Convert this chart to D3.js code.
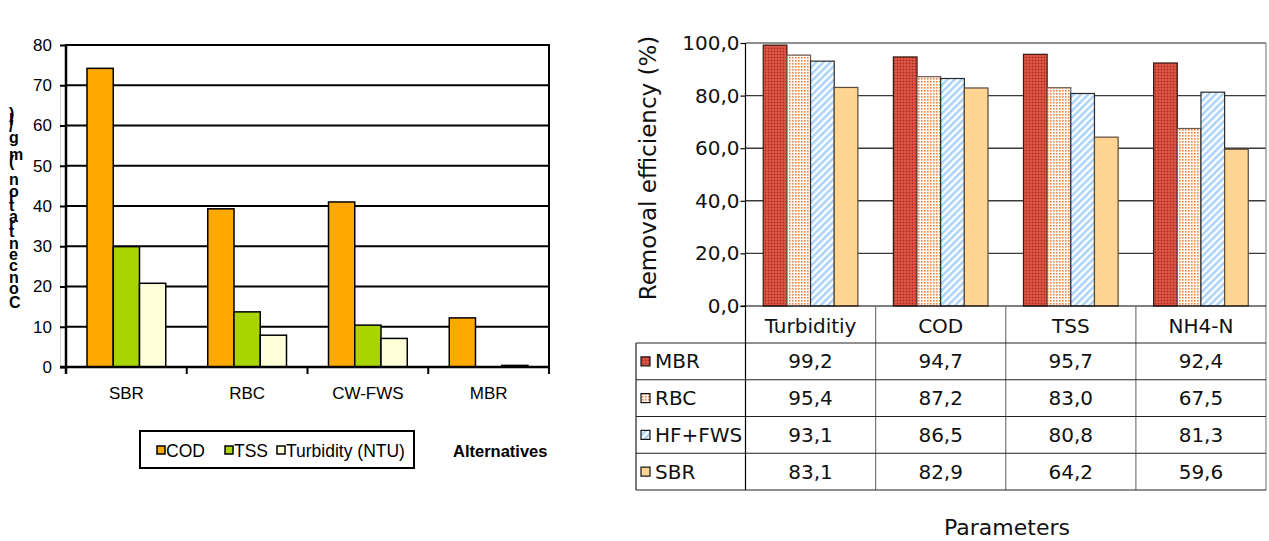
<!DOCTYPE html>
<html>
<head>
<meta charset="utf-8">
<script src="https://cdn.jsdelivr.net/npm/d3@7"></script>
<style>
  html, body { margin: 0; padding: 0; background: #fff; }
  svg { display: block; }
</style>
</head>
<body>
<svg id="chart" width="1269" height="541"></svg>
<script>
// ---------- Left chart data ----------
const leftCategories = ["SBR", "RBC", "CW-FWS", "MBR"];
const leftSeries = ["COD", "TSS", "Turbidity (NTU)"];
const codValues = [74.2, 39.3, 41.0, 12.2];
const tssValues = [29.9, 13.7, 10.4, 0];
const turbidityValues = [20.8, 7.9, 7.1, 0.4];
const leftTicks = [0, 10, 20, 30, 40, 50, 60, 70, 80];
const leftYLabel = "Concentration (mg/l)";
const leftXTitle = "Alternatives";

// ---------- Right chart data ----------
const parameters = ["Turbiditiy", "COD", "TSS", "NH4-N"];
const rightSeries = ["MBR", "RBC", "HF+FWS", "SBR"];
const mbrValues = [99.2, 94.7, 95.7, 92.4];
const rbcValues = [95.4, 87.2, 83.0, 67.5];
const hfFwsValues = [93.1, 86.5, 80.8, 81.3];
const sbrValues = [83.1, 82.9, 64.2, 59.6];
const rightTicks = [0, 20, 40, 60, 80, 100];
const rightYTitle = "Removal efficiency (%)";
const rightXTitle = "Parameters";

const svg = d3.select("#chart");
const defs = svg.append("defs");

// patterns for right chart
const pMBR = defs.append("pattern").attr("id", "pMBR").attr("patternUnits", "userSpaceOnUse").attr("width", 3).attr("height", 3);
pMBR.append("rect").attr("width", 3).attr("height", 3).attr("fill", "#d5493a");
pMBR.append("rect").attr("width", 1).attr("height", 1).attr("fill", "#9a2a20");
pMBR.append("rect").attr("x", 1.5).attr("y", 1.5).attr("width", 1).attr("height", 1).attr("fill", "#e67a68");

const pRBC = defs.append("pattern").attr("id", "pRBC").attr("patternUnits", "userSpaceOnUse").attr("width", 3).attr("height", 3);
pRBC.append("rect").attr("width", 3).attr("height", 3).attr("fill", "#fff8f0");
pRBC.append("rect").attr("width", 1.6).attr("height", 1.6).attr("fill", "#e8874a");

const pHF = defs.append("pattern").attr("id", "pHF").attr("patternUnits", "userSpaceOnUse").attr("width", 5).attr("height", 5).attr("patternTransform", "rotate(45)");
pHF.append("rect").attr("width", 5).attr("height", 5).attr("fill", "#ffffff");
pHF.append("rect").attr("width", 2.5).attr("height", 5).attr("fill", "#a9d3fb");

const rightFills = ["url(#pMBR)", "url(#pRBC)", "url(#pHF)", "#ffd591"];
const rightStrokes = ["#3a1a14", "#6b5a50", "#2a2a2a", "#5a4a3a"];
const leftFills = ["#ffa800", "#a8d500", "#ffffd9"];

// ================= LEFT CHART =================
const L = { x0: 66, x1: 549, y0: 45, y1: 367 };
const lx = d3.scaleBand().domain(leftCategories).range([L.x0, L.x1]);
const lbw = lx.bandwidth();
const lBarW = lbw / (leftSeries.length + 1.6);
const lPad = (lbw - lBarW * leftSeries.length) / 2;
const lxi = d3.scaleBand().domain(leftSeries).range([lPad, lbw - lPad]);
const ly = d3.scaleLinear().domain([0, 80]).range([L.y1, L.y0]);

const left = svg.append("g").attr("font-family", "'Liberation Sans', Arial, sans-serif");

left.append("line").attr("x1", 60.5).attr("x2", 60.5).attr("y1", 85).attr("y2", L.y1).attr("stroke", "#d0d0d0").attr("stroke-width", 1);

left.append("g").selectAll("line").data(leftTicks.filter(d => d > 0)).join("line")
  .attr("x1", L.x0).attr("x2", L.x1).attr("y1", d => ly(d)).attr("y2", d => ly(d))
  .attr("stroke", "#000").attr("stroke-width", 2);
left.append("line").attr("x1", L.x1).attr("x2", L.x1).attr("y1", L.y0 - 1).attr("y2", L.y1 + 7)
  .attr("stroke", "#000").attr("stroke-width", 2);

const leftData = [codValues, tssValues, turbidityValues];
leftSeries.forEach((s, si) => {
  left.append("g").selectAll("rect").data(leftCategories).join("rect")
    .attr("x", c => lx(c) + lxi(s))
    .attr("y", (c, i) => ly(leftData[si][i]))
    .attr("width", lxi.bandwidth())
    .attr("height", (c, i) => ly(0) - ly(leftData[si][i]))
    .attr("fill", leftFills[si])
    .attr("stroke", "#000").attr("stroke-width", 1.5);
});

const lyAxis = left.append("g").attr("transform", `translate(${L.x0},0)`)
  .call(d3.axisLeft(ly).tickValues(leftTicks).tickSize(6).tickPadding(8));
lyAxis.select(".domain").attr("stroke", "#000").attr("stroke-width", 2.5).attr("d", `M0,${L.y0 - 1}V${L.y1 + 7}`);
lyAxis.selectAll(".tick line").attr("stroke", "#000").attr("stroke-width", 2);
lyAxis.selectAll(".tick text").attr("font-size", 17).attr("fill", "#000").attr("font-family", "'Liberation Sans', Arial, sans-serif");

const lxAxis = left.append("g").attr("transform", `translate(0,${L.y1})`)
  .call(d3.axisBottom(lx).tickSize(0).tickPadding(20));
lxAxis.select(".domain").attr("stroke", "#000").attr("stroke-width", 2.5).attr("d", `M${L.x0 - 6},0H${L.x1}`);
lxAxis.selectAll(".tick text").attr("font-size", 17).attr("fill", "#000").attr("font-family", "'Liberation Sans', Arial, sans-serif");
left.append("g").selectAll("line").data(leftCategories.map(c => lx(c)).concat([L.x1])).join("line")
  .attr("x1", d => d).attr("x2", d => d).attr("y1", L.y1).attr("y2", L.y1 + 7)
  .attr("stroke", "#000").attr("stroke-width", 2);

// garbled y label: text runs bottom-to-top, each glyph drawn upright
left.append("text")
  .attr("transform", "translate(9,308) rotate(-90)")
  .attr("x", 0).attr("y", 0)
  .attr("rotate", "90")
  .attr("letter-spacing", 2)
  .attr("font-size", 16).attr("font-weight", "bold")
  .text(leftYLabel);

// legend
left.append("rect").attr("x", 140).attr("y", 431).attr("width", 274).attr("height", 37)
  .attr("fill", "#fff").attr("stroke", "#000").attr("stroke-width", 2);
const legX = [157, 225, 277];
leftSeries.forEach((s, i) => {
  left.append("rect").attr("x", legX[i]).attr("y", 446).attr("width", 8).attr("height", 8)
    .attr("fill", leftFills[i]).attr("stroke", "#000").attr("stroke-width", 1.5);
  left.append("text").attr("x", legX[i] + 9).attr("y", 457).attr("font-size", 17.5).text(s);
});
left.append("text").attr("x", 453).attr("y", 457).attr("font-size", 16.5).attr("font-weight", "bold").text(leftXTitle);

// ================= RIGHT CHART =================
const R = { x0: 745.5, x1: 1266, y0: 43, y1: 306 };
const rx = d3.scaleBand().domain(parameters).range([R.x0, R.x1]);
const rbw = rx.bandwidth();
const rBarW = rbw / (rightSeries.length + 1.5);
const rPad = (rbw - rBarW * rightSeries.length) / 2;
const rxi = d3.scaleBand().domain(rightSeries).range([rPad, rbw - rPad]);
const ry = d3.scaleLinear().domain([0, 100]).range([R.y1, R.y0]);
const fmt = v => d3.format(".1f")(v).replace(".", ",");

const right = svg.append("g").attr("font-family", "'DejaVu Sans', sans-serif");

right.append("g").selectAll("line").data(rightTicks.filter(d => d > 0 && d < 100)).join("line")
  .attr("x1", R.x0).attr("x2", R.x1).attr("y1", d => ry(d)).attr("y2", d => ry(d))
  .attr("stroke", "#3a3a3a").attr("stroke-width", 1.4);
right.append("line").attr("x1", R.x0).attr("x2", R.x1).attr("y1", ry(100)).attr("y2", ry(100))
  .attr("stroke", "#222").attr("stroke-width", 1.2);
right.append("line").attr("x1", R.x1).attr("x2", R.x1).attr("y1", R.y0).attr("y2", 490)
  .attr("stroke", "#888").attr("stroke-width", 1.2);

const rightData = [mbrValues, rbcValues, hfFwsValues, sbrValues];
rightSeries.forEach((s, si) => {
  right.append("g").selectAll("rect").data(parameters).join("rect")
    .attr("x", p => rx(p) + rxi(s))
    .attr("y", (p, i) => ry(rightData[si][i]))
    .attr("width", rxi.bandwidth())
    .attr("height", (p, i) => ry(0) - ry(rightData[si][i]))
    .attr("fill", rightFills[si])
    .attr("stroke", rightStrokes[si]).attr("stroke-width", 1.2);
});

const ryAxis = right.append("g").attr("transform", `translate(${R.x0},0)`)
  .call(d3.axisLeft(ry).tickValues(rightTicks).tickSize(5).tickPadding(1).tickFormat(fmt));
ryAxis.select(".domain").attr("stroke", "#000").attr("stroke-width", 1.2).attr("d", `M0,${R.y0}V490`);
ryAxis.selectAll(".tick line").attr("stroke", "#000").attr("stroke-width", 1.2);
ryAxis.selectAll(".tick text").attr("font-size", 20).attr("fill", "#111").attr("font-family", "'DejaVu Sans', sans-serif");

right.append("line").attr("x1", R.x0 - 5).attr("x2", R.x1).attr("y1", R.y1).attr("y2", R.y1)
  .attr("stroke", "#000").attr("stroke-width", 1.2);

right.append("text").attr("transform", `translate(656,168) rotate(-90)`)
  .attr("text-anchor", "middle").attr("font-size", 23).attr("fill", "#111").text(rightYTitle);

// data table
const headerBottom = 343;
const rowH = 36.75;
const tableBottom = headerBottom + rowH * rightSeries.length;
const tableLeft = 636;
right.append("g").selectAll("line").data(parameters.slice(1)).join("line")
  .attr("x1", p => rx(p)).attr("x2", p => rx(p)).attr("y1", R.y1).attr("y2", tableBottom)
  .attr("stroke", "#777").attr("stroke-width", 1.2);
right.append("line").attr("x1", tableLeft).attr("x2", tableLeft).attr("y1", headerBottom).attr("y2", tableBottom)
  .attr("stroke", "#222").attr("stroke-width", 1.2);
right.append("g").selectAll("line").data(d3.range(rightSeries.length + 1)).join("line")
  .attr("x1", tableLeft).attr("x2", R.x1)
  .attr("y1", i => headerBottom + i * rowH).attr("y2", i => headerBottom + i * rowH)
  .attr("stroke", "#222").attr("stroke-width", 1.2);
right.append("g").selectAll("text").data(parameters).join("text")
  .attr("x", p => rx(p) + rbw / 2).attr("y", 333)
  .attr("text-anchor", "middle").attr("font-size", 20).attr("fill", "#111").text(p => p);
rightSeries.forEach((s, si) => {
  const cy = headerBottom + rowH * si + rowH / 2;
  right.append("rect").attr("x", 641).attr("y", cy - 4.5).attr("width", 9).attr("height", 9)
    .attr("fill", rightFills[si]).attr("stroke", "#111").attr("stroke-width", 1.2);
  right.append("text").attr("x", 655).attr("y", cy + 7).attr("font-size", 20).attr("fill", "#111").text(s);
  right.append("g").selectAll("text").data(parameters).join("text")
    .attr("x", p => rx(p) + rbw / 2).attr("y", cy + 7)
    .attr("text-anchor", "middle").attr("font-size", 20).attr("fill", "#111")
    .text((p, i) => fmt(rightData[si][i]));
});

right.append("text").attr("x", 1007).attr("y", 535).attr("text-anchor", "middle")
  .attr("font-size", 22).attr("fill", "#111").text(rightXTitle);
</script>
</body>
</html>
